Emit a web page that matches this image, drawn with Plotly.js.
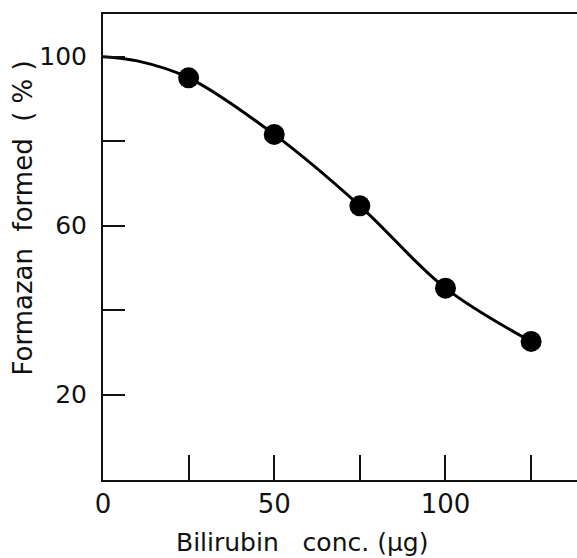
<!DOCTYPE html>
<html>
<head>
<meta charset="utf-8">
<script src="https://cdn.plot.ly/plotly-3.0.1.min.js"></script>
<style>html,body{margin:0;padding:0;background:#fff;}#chart{width:577px;height:558px;}</style>
</head>
<body>
<div id="chart"></div>
<script>
// Measured points
const concX = [25, 50, 75, 100, 125];
const formazanY = [95.0, 81.6, 64.7, 45.2, 32.6];
// Fitted curve
const curveX = [0, 10, 25, 50, 75, 100, 125];
const curveY = [100, 99.0, 95.0, 81.6, 64.7, 45.2, 32.6];
// Ticks
const xTickVals = [0, 25, 50, 75, 100, 125];
const xTickText = ['0', '', '50', '', '100', ''];
const yTickVals = [20, 40, 60, 80, 100];
const yTickText = ['20', '', '60', '', '100'];
const xTitle = 'Bilirubin\u00A0\u00A0 conc. (\u03BCg)';
const yTitle = 'Formazan\u00A0\u00A0formed\u00A0\u00A0(\u00A0%\u00A0)';

const font = {family: 'DejaVu Sans, sans-serif', color: '#111'};

const traces = [
  {x: curveX, y: curveY, mode: 'lines', type: 'scatter',
   line: {color: '#000', width: 3, shape: 'spline', smoothing: 1}, hoverinfo: 'skip'},
  {x: concX, y: formazanY, mode: 'markers', type: 'scatter',
   marker: {color: '#000', size: 21}}
];

const layout = {
  width: 577, height: 558,
  margin: {l: 103, r: 0, t: 14, b: 78},
  paper_bgcolor: '#fff', plot_bgcolor: '#fff',
  showlegend: false,
  font: Object.assign({size: 24}, font),
  xaxis: {
    range: [0, 138.4], showgrid: false, zeroline: false,
    showline: true, linecolor: '#111', linewidth: 2, mirror: true,
    ticks: 'inside', ticklen: 25, tickwidth: 2, tickcolor: '#111',
    tickvals: xTickVals, ticktext: xTickText, ticklabelstandoff: 0,
    tickfont: Object.assign({size: 26}, font)
  },
  yaxis: {
    range: [-0.2, 110.1], showgrid: false, zeroline: false,
    showline: true, linecolor: '#111', linewidth: 2,
    ticks: 'inside', ticklen: 22, tickwidth: 2, tickcolor: '#111',
    tickvals: yTickVals, ticktext: yTickText, ticklabelstandoff: 9,
    tickfont: Object.assign({size: 25}, font)
  },
  annotations: [
    {text: xTitle, xref: 'paper', yref: 'paper', x: 0.42, y: -0.135,
     xanchor: 'center', yanchor: 'middle', showarrow: false,
     font: Object.assign({size: 25}, font)},
    {text: yTitle, xref: 'paper', yref: 'paper', x: -0.168, y: 0.562,
     xanchor: 'center', yanchor: 'middle', showarrow: false, textangle: -90,
     font: Object.assign({size: 26}, font)}
  ]
};

Plotly.newPlot('chart', traces, layout, {displayModeBar: false, staticPlot: true});
</script>
</body>
</html>
